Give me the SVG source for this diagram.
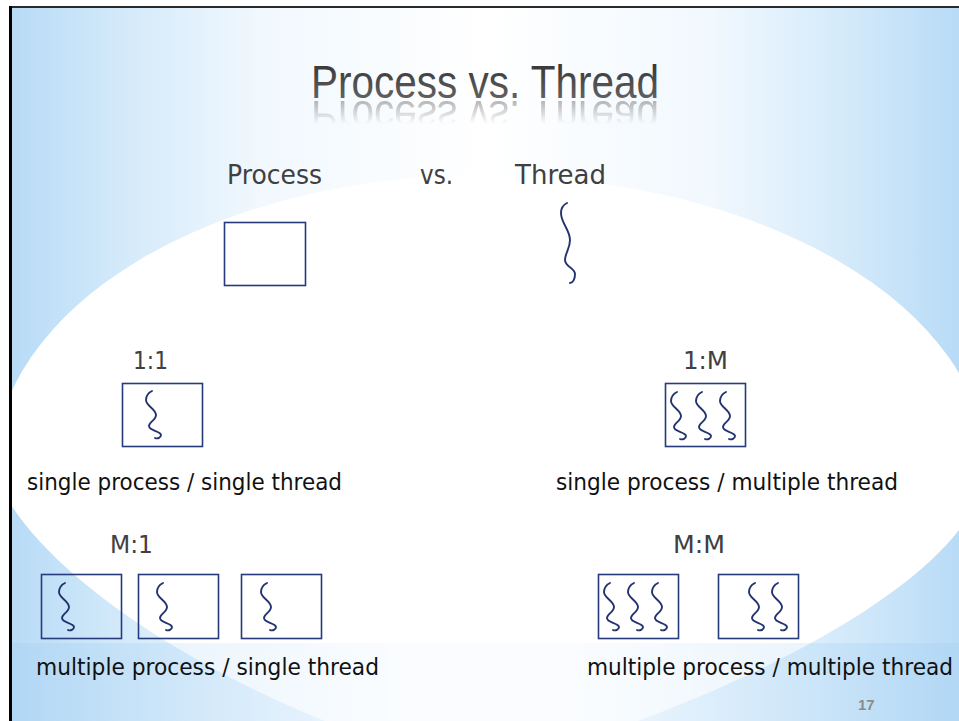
<svg xmlns="http://www.w3.org/2000/svg" width="959" height="721" viewBox="0 0 959 721">
  <defs>
    <!-- slide backdrop: blue at the sides, fading to white in the middle -->
    <linearGradient id="bgGrad" x1="0" y1="0" x2="1" y2="0">
      <stop offset="0" stop-color="#b8dbf6"/>
      <stop offset="0.12" stop-color="#d4eafa"/>
      <stop offset="0.26" stop-color="#f1f8fe"/>
      <stop offset="0.5" stop-color="#ffffff"/>
      <stop offset="0.74" stop-color="#f1f8fe"/>
      <stop offset="0.88" stop-color="#d4eafa"/>
      <stop offset="1" stop-color="#b8dbf6"/>
    </linearGradient>
    <linearGradient id="bandGrad" x1="0" y1="0" x2="1" y2="0">
      <stop offset="0" stop-color="#b1d7f5"/>
      <stop offset="0.2" stop-color="#d3e9fa"/>
      <stop offset="0.4" stop-color="#f2f8fe"/>
      <stop offset="0.6" stop-color="#f2f8fe"/>
      <stop offset="0.8" stop-color="#d3e9fa"/>
      <stop offset="1" stop-color="#b1d7f5"/>
    </linearGradient>
    <linearGradient id="titleFill" x1="0" y1="0" x2="0" y2="1">
      <stop offset="0" stop-color="#2e2e2e"/>
      <stop offset="1" stop-color="#6c6c6c"/>
    </linearGradient>
    <linearGradient id="reflFade" gradientUnits="userSpaceOnUse" x1="0" y1="99" x2="0" y2="124">
      <stop offset="0" stop-color="#ffffff" stop-opacity="0.55"/>
      <stop offset="1" stop-color="#ffffff" stop-opacity="0"/>
    </linearGradient>
    <mask id="reflMask" maskUnits="userSpaceOnUse" x="280" y="100" width="420" height="30">
      <rect x="280" y="100" width="420" height="30" fill="url(#reflFade)"/>
    </mask>
    <clipPath id="upperClip"><rect x="12" y="8" width="947" height="635"/></clipPath>
    <clipPath id="lowerClip"><rect x="12" y="643" width="947" height="78"/></clipPath>
    <!-- the large white glow behind the content -->
    <path id="glow" d="M -6,470 A 488 295 0 0 1 482,175 A 505 295 0 0 1 987,470
                       C 970,600 650,730 480,770 C 260,720 30,580 -6,470 Z"/>
    <!-- thread squiggle, small (inside a process box) -->
    <path id="thrSmall" d="M 0,0 C -4,2 -6,5 -6,9 C -6,15 4,18 4,24 C 4,29 -3,31 -3,35 C -3,40 9,40 9,44 C 9,47 5,48 3,47"/>
  </defs>

  <style>
    .box { fill: none; stroke: #263a7c; stroke-width: 1.6; }
    .thr { fill: none; stroke: #22336f; stroke-width: 1.9; stroke-linecap: round; stroke-linejoin: round; }
    .lbl { font-family: "DejaVu Sans", Verdana, sans-serif; font-size: 27px; fill: #404040; }
    .ratio { font-family: "DejaVu Sans", Verdana, sans-serif; font-size: 25px; fill: #404040; }
    .cap { font-family: "DejaVu Sans", Verdana, sans-serif; font-size: 23px; fill: #111111; }
    .title { font-family: "Liberation Sans", Arial, sans-serif; font-size: 46px; }
    .page { font-family: "Liberation Sans", Arial, sans-serif; font-size: 15px; font-weight: bold; fill: #8c8c8c; }
  </style>

  <!-- background -->
  <rect x="0" y="0" width="959" height="721" fill="#ffffff"/>
  <g id="backdrop">
    <rect x="12" y="8" width="947" height="635" fill="url(#bgGrad)"/>
    <use href="#glow" fill="#ffffff" clip-path="url(#upperClip)"/>
    <rect x="12" y="643" width="947" height="78" fill="url(#bandGrad)"/>
    <use href="#glow" fill="#ffffff" fill-opacity="0.6" clip-path="url(#lowerClip)"/>
  </g>

  <!-- frame -->
  <rect x="9" y="6" width="950" height="2" fill="#2a2a2a"/>
  <rect x="9" y="6" width="3" height="715" fill="#000000"/>

  <!-- title with reflection -->
  <g id="title">
    <text class="title" x="311" y="98" textLength="348" lengthAdjust="spacingAndGlyphs" fill="url(#titleFill)">Process vs. Thread</text>
    <g mask="url(#reflMask)">
      <text class="title" x="311" y="98" textLength="348" lengthAdjust="spacingAndGlyphs" fill="#707070" transform="translate(0,199) scale(1,-1)">Process vs. Thread</text>
    </g>
  </g>

  <!-- legend: process vs thread -->
  <g id="legend-process">
    <text class="lbl" x="227" y="184" textLength="95" lengthAdjust="spacingAndGlyphs">Process</text>
    <rect class="box" x="224.5" y="222.5" width="81" height="63"/>
  </g>
  <g id="legend-vs">
    <text class="lbl" x="420" y="184" textLength="33" lengthAdjust="spacingAndGlyphs">vs.</text>
  </g>
  <g id="legend-thread">
    <text class="lbl" x="515" y="184" textLength="91" lengthAdjust="spacingAndGlyphs">Thread</text>
    <path class="thr" transform="translate(567,203)" d="M 0,0 C -4,2 -6,5 -6,10 C -6,20 3,27 3,37 C 3,46 -2,50 -2,57 C -2,64 8,65 8,71 C 8,76 6,80 3,80"/>
  </g>

  <!-- 1:1 -->
  <g id="one-to-one">
    <text class="ratio" x="133" y="369" textLength="35" lengthAdjust="spacingAndGlyphs">1:1</text>
    <rect class="box" x="122.5" y="383.5" width="80" height="63"/>
    <use href="#thrSmall" class="thr" x="152" y="391"/>
    <text class="cap" x="27" y="490" textLength="315" lengthAdjust="spacingAndGlyphs">single process / single thread</text>
  </g>

  <!-- 1:M -->
  <g id="one-to-many">
    <text class="ratio" x="683" y="369" textLength="45" lengthAdjust="spacingAndGlyphs">1:M</text>
    <rect class="box" x="665.5" y="383.5" width="80" height="63"/>
    <use href="#thrSmall" class="thr" x="677" y="392"/>
    <use href="#thrSmall" class="thr" x="702" y="392"/>
    <use href="#thrSmall" class="thr" x="726" y="392"/>
    <text class="cap" x="556" y="490" textLength="342" lengthAdjust="spacingAndGlyphs">single process / multiple thread</text>
  </g>

  <!-- M:1 -->
  <g id="many-to-one">
    <text class="ratio" x="110" y="553" textLength="43" lengthAdjust="spacingAndGlyphs">M:1</text>
    <rect class="box" x="41.5" y="574.5" width="80" height="64"/>
    <rect class="box" x="138.5" y="574.5" width="80" height="64"/>
    <rect class="box" x="241.5" y="574.5" width="80" height="64"/>
    <use href="#thrSmall" class="thr" x="65" y="583"/>
    <use href="#thrSmall" class="thr" x="163" y="583"/>
    <use href="#thrSmall" class="thr" x="267" y="583"/>
    <text class="cap" x="36" y="675" textLength="343" lengthAdjust="spacingAndGlyphs">multiple process / single thread</text>
  </g>

  <!-- M:M -->
  <g id="many-to-many">
    <text class="ratio" x="673" y="553" textLength="52" lengthAdjust="spacingAndGlyphs">M:M</text>
    <rect class="box" x="598.5" y="574.5" width="80" height="64"/>
    <rect class="box" x="718.5" y="574.5" width="80" height="64"/>
    <use href="#thrSmall" class="thr" x="610" y="583"/>
    <use href="#thrSmall" class="thr" x="634" y="583"/>
    <use href="#thrSmall" class="thr" x="658" y="583"/>
    <use href="#thrSmall" class="thr" x="755" y="583"/>
    <use href="#thrSmall" class="thr" x="778" y="583"/>
    <text class="cap" x="587" y="675" textLength="366" lengthAdjust="spacingAndGlyphs">multiple process / multiple thread</text>
  </g>

  <!-- slide number -->
  <text class="page" x="858" y="710">17</text>
</svg>
